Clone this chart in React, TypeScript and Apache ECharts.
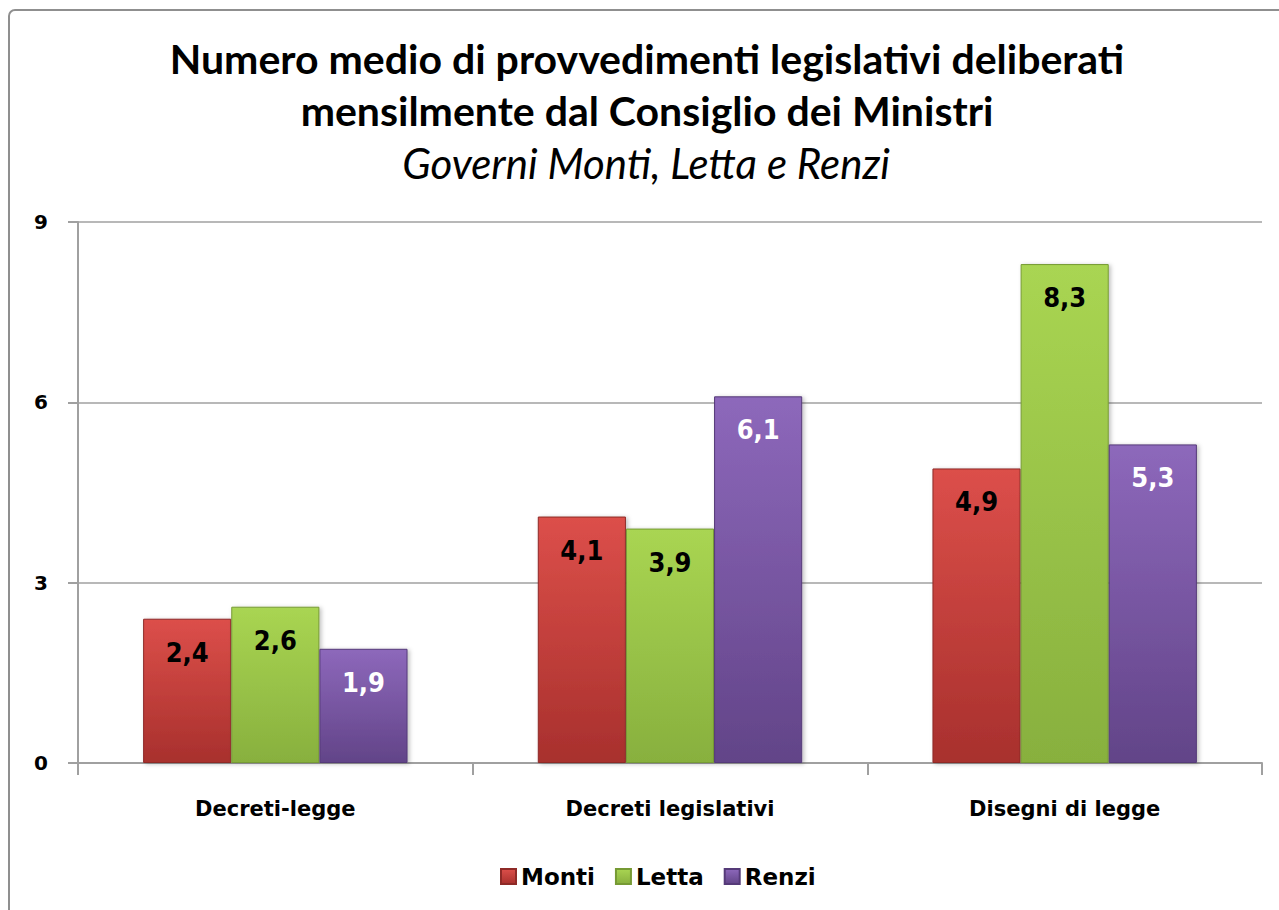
import React, { useEffect, useRef } from "react";
import * as echarts from "echarts";

const categories = ["Decreti-legge", "Decreti legislativi", "Disegni di legge"];
const monti = [2.4, 4.1, 4.9];
const letta = [2.6, 3.9, 8.3];
const renzi = [1.9, 6.1, 5.3];
const yTicks = { min: 0, max: 9, interval: 3 };

const titleLine1 = "Numero medio di provvedimenti legislativi deliberati";
const titleLine2 = "mensilmente dal Consiglio dei Ministri";
const subtitle = "Governi Monti, Letta e Renzi";

function grad(top: string, bottom: string) {
  return new echarts.graphic.LinearGradient(0, 0, 0, 1, [
    { offset: 0, color: top },
    { offset: 1, color: bottom },
  ]);
}

export default function App() {
  const ref = useRef<HTMLDivElement>(null);
  useEffect(() => {
    document.body.style.margin = "0";
    const chart = echarts.init(ref.current!, undefined, { renderer: "svg" });
    const labelFmt = (p: any) => String(p.value).replace(".", ",");
    const mkSeries = (name: string, data: number[], top: string, bottom: string, border: string, labelColor: string) => ({
      name,
      type: "bar",
      data,
      barGap: "0%",
      barCategoryGap: "33%",
      itemStyle: {
        color: grad(top, bottom),
        borderColor: border,
        borderWidth: 1,
        shadowColor: "rgba(0,0,0,0.25)",
        shadowBlur: 4,
        shadowOffsetX: 2,
        shadowOffsetY: 1,
      },
      label: {
        show: true,
        position: "insideTop",
        distance: 20,
        formatter: labelFmt,
        color: labelColor,
        fontFamily: "'DejaVu Sans Condensed', 'DejaVu Sans'",
        fontWeight: "bold",
        fontSize: 27,
      },
    });
    const titleStyle = {
      fontFamily: "Lato",
      fontWeight: "bold",
      fontSize: 41,
      fill: "#000",
      align: "center",
      verticalAlign: "middle",
    };
    chart.setOption({
      animation: false,
      backgroundColor: "#ffffff",
      graphic: [
        {
          type: "rect",
          shape: { x: 9, y: 10, width: 1300, height: 950, r: 6 },
          style: { fill: "none", stroke: "#8f8f8f", lineWidth: 2 },
          silent: true,
        },
        { type: "text", x: 647, y: 58, style: { ...titleStyle, text: titleLine1 } },
        { type: "text", x: 647, y: 110, style: { ...titleStyle, text: titleLine2 } },
        {
          type: "text",
          x: 646,
          y: 163,
          style: {
            text: subtitle,
            fontFamily: "Lato",
            fontStyle: "italic",
            fontSize: 42,
            fill: "#000",
            align: "center",
            verticalAlign: "middle",
          },
        },
      ],
      legend: {
        bottom: 17,
        left: 495,
        itemWidth: 15,
        itemHeight: 15,
        itemGap: 20,
        icon: "rect",
        textStyle: { fontFamily: "DejaVu Sans", fontWeight: "bold", fontSize: 23, color: "#000" },
        data: ["Monti", "Letta", "Renzi"],
      },
      grid: { left: 78, right: 17, top: 222, bottom: 147, containLabel: false },
      xAxis: {
        type: "category",
        data: categories,
        axisLine: { lineStyle: { color: "#a0a0a0", width: 2 } },
        axisTick: { show: true, length: 12, lineStyle: { color: "#a0a0a0", width: 2 } },
        axisLabel: {
          margin: 35,
          fontFamily: "DejaVu Sans",
          fontWeight: "bold",
          fontSize: 21,
          color: "#000",
        },
      },
      yAxis: {
        type: "value",
        min: yTicks.min,
        max: yTicks.max,
        interval: yTicks.interval,
        axisLine: { show: true, lineStyle: { color: "#a0a0a0", width: 2 } },
        axisTick: { show: true, length: 10, lineStyle: { color: "#a0a0a0", width: 2 } },
        splitLine: { lineStyle: { color: "#a0a0a0", width: 1.5 } },
        axisLabel: {
          margin: 30,
          fontFamily: "DejaVu Sans",
          fontWeight: "bold",
          fontSize: 20,
          color: "#000",
        },
      },
      series: [
        mkSeries("Monti", monti, "#dc4f4a", "#a8302d", "#8e2a27", "#000"),
        mkSeries("Letta", letta, "#a9d552", "#88b03e", "#769a34", "#000"),
        mkSeries("Renzi", renzi, "#8d68bb", "#624488", "#553a78", "#fff"),
      ],
    });
    return () => chart.dispose();
  }, []);
  return <div ref={ref} style={{ width: 1279, height: 910 }} />;
}
